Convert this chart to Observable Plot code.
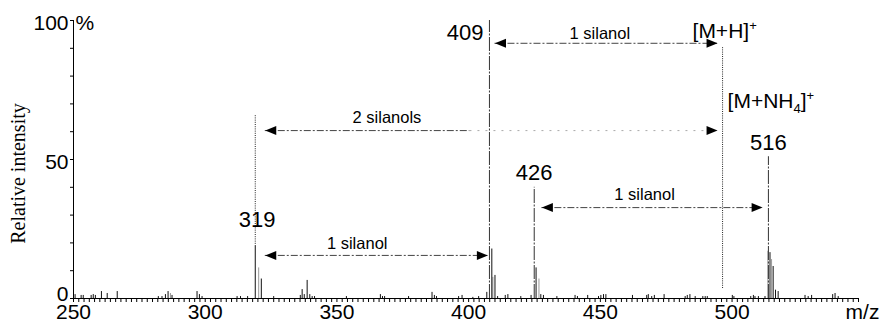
<!DOCTYPE html>
<html><head><meta charset="utf-8">
<script src="https://cdn.jsdelivr.net/npm/d3@7"></script>
<script src="https://cdn.jsdelivr.net/npm/@observablehq/plot@0.6"></script>
<style>
html,body{margin:0;padding:0;background:#fff;}
#chart svg{display:block;}
</style></head><body><div id="chart"></div>
<script>
// ---- tick labels ----
const xTickLabels = [250, 300, 350, 400, 450, 500];
const yTickLabels = [0, 50, 100];

// ---- spectrum: black sticks (m/z, relative intensity %) ----
const blackMz = [250.6,252.9,253.7,256.7,257.5,258.3,260.6,262.8,266.6,282.2,283.6,284.9,285.9,287.4,296.9,297.8,298.8,312.1,313.4,316.1,319.0,321.3,326.0,336.1,336.8,337.6,338.7,339.7,340.6,341.5,353.6,366.5,367.3,368.1,377.2,386.1,387.0,387.8,396.2,397.5,401.6,403.8,406.9,408.8,410.0,411.0,413.9,414.9,419.8,423.7,425.6,427.4,428.4,433.5,440.4,441.3,445.2,449.3,450.2,451.2,452.1,462.2,467.6,468.2,469.5,470.5,474.2,482.2,483.0,484.0,486.0,488.9,489.8,490.6,500.1,500.7,507.1,508.1,508.7,510.0,512.5,514.4,515.6,516.5,517.5,527.7,528.9,530.2,538.2,539.1,540.3];
const blackIntensity = [1.4,1.1,1.1,1.1,1.4,1.1,2.5,1.8,2.5,0.7,0.7,1.4,2.5,1.1,2.5,1.4,0.7,0.7,0.7,0.7,18.7,7.0,0.7,1.1,3.2,1.4,6.5,1.4,0.7,0.7,0.7,1.4,0.7,0.7,0.7,2.2,1.1,0.7,0.7,1.1,0.4,0.7,2.2,17.8,8.3,0.7,1.1,1.4,0.7,1.1,11.0,1.4,1.1,0.7,1.1,0.7,1.1,0.7,1.1,1.4,1.4,1.1,1.1,1.4,0.7,1.1,1.4,0.7,1.1,1.4,0.7,0.7,0.7,0.7,1.1,0.7,0.7,1.1,0.7,0.7,0.7,16.5,11.5,3.0,2.5,1.1,0.7,1.1,1.4,1.8,0.7];
// grey sticks
const greyMz = [286.8,320.3,409.2,426.7,513.6,515.0];
const greyIntensity = [1.8,11.0,7.6,7.0,17.0,14.0];
// labelled main peaks (thin lines)
const mainMz = [407.9,424.9,513.8];
const mainIntensity = [100,40,51];

// ---- peak labels ----
const peakLabels = ["319","409","426","516"];
const peakLabelMz = [319.7,405.6,424.9,513.8];
const peakLabelY = [28.4,95.5,45.1,56.1];

// ---- silanol arrows ----
const arrowLabels = ["1 silanol","2 silanols","1 silanol","1 silanol"];
const arrowFrom = [410.0,322.8,322.8,427.8];
const arrowTo = [494.5,494.5,407.3,511.6];
const arrowLevel = [91.8,60.4,15.5,32.7];
const arrowLabelMz = [449.8,369.0,357.7,466.8];
const arrowLabelY = [95.3,65.1,19.8,37.4];
const arrowFadeFrom = [null,400.5,null,null];

// ---- dotted guide lines ----
const guideMz = [319.0,496.4];
const guideLow = [18.7,3.6];
const guideHigh = [65.8,90.3];

// ---- ion labels ----
const ionLabels = ["[M+H]+","[M+NH4]+"];
const ionLabelMz = [485.0,498.3];
const ionLabelY = [96.0,70.9];

const sticks = (mz, it) => mz.map((m, i) => ({mz: m, i: it[i]}));
const black = sticks(blackMz, blackIntensity);
const grey = sticks(greyMz, greyIntensity);
const main = sticks(mainMz, mainIntensity);
const peakLab = peakLabels.map((t, i) => ({t, mz: peakLabelMz[i], y: peakLabelY[i]}));
const arrows = arrowLabels.map((t, i) => ({t, a: arrowFrom[i], b: arrowTo[i], y: arrowLevel[i], lx: arrowLabelMz[i], ly: arrowLabelY[i], fade: arrowFadeFrom[i]}));
const guides = guideMz.map((m, i) => ({mz: m, lo: guideLow[i], hi: guideHigh[i]}));
const ions = ionLabels.map((t, i) => ({t, mz: ionLabelMz[i], y: ionLabelY[i]}));

const triRight = {draw(ctx) { ctx.moveTo(0, 0); ctx.lineTo(-11, -4.5); ctx.lineTo(-11, 4.5); ctx.closePath(); }};
const triLeft = {draw(ctx) { ctx.moveTo(0, 0); ctx.lineTo(11, -4.5); ctx.lineTo(11, 4.5); ctx.closePath(); }};

const sans = "'Liberation Sans', Arial, Helvetica, sans-serif";
const serif = "'Liberation Serif', 'Times New Roman', serif";

const chart = Plot.plot({
  width: 885, height: 331,
  marginLeft: 73, marginRight: 27, marginTop: 20, marginBottom: 33,
  x: {domain: [250, 548]},
  y: {domain: [0, 100]},
  style: {fontFamily: sans, background: "#fff", color: "#000", overflow: "visible"},
  marks: [
    Plot.axisX({ticks: d3.range(250, 549, 2), tickSize: 4, tickPadding: 2, tickFormat: d => xTickLabels.includes(d) ? String(d) : "", fontSize: 21, label: null}),
    Plot.axisY({ticks: d3.range(0, 101, 10), tickSize: 3, tickFormat: () => "", label: null}),
    Plot.text(yTickLabels.filter(d => d > 0), {x: 250, y: d => d, text: d => String(d), textAnchor: "end", dx: -5, dy: 3, fontSize: 21}),
    Plot.text(yTickLabels.filter(d => d === 0), {x: 250, y: d => d, text: d => String(d), textAnchor: "end", dx: -5, dy: -4, fontSize: 21}),
    Plot.text(["%"], {frameAnchor: "top-left", dx: 2, dy: 3, textAnchor: "start", lineAnchor: "middle", fontSize: 21}),
    Plot.text(["m/z"], {frameAnchor: "bottom-right", dx: 4, dy: 14, textAnchor: "middle", lineAnchor: "middle", fontSize: 21}),
    Plot.text(["Relative intensity"], {frameAnchor: "left", dx: -55, dy: 14, rotate: -90, textAnchor: "middle", lineAnchor: "middle", fontFamily: serif, fontSize: 20}),
    // spectrum
    Plot.ruleX(grey, {x: "mz", y: "i", stroke: "#9a9a9a", strokeWidth: 1}),
    Plot.ruleX(black, {x: "mz", y: "i", stroke: "#111", strokeWidth: 1}),
    Plot.ruleX(main, {x: "mz", y: "i", stroke: "#333", strokeWidth: 1, strokeDasharray: "14,1.5,2,1.5"}),
    Plot.ruleX([250], {stroke: "#000"}),
    Plot.ruleY([0], {stroke: "#000"}),
    // guides
    Plot.ruleX(guides, {x: "mz", y1: "lo", y2: "hi", stroke: "#222", strokeDasharray: "1,1.2"}),
    // arrows
    Plot.ruleY(arrows, {y: "y", x1: "a", x2: d => d.fade ?? d.b, stroke: "#444", strokeDasharray: "7,2,2,2"}),
    Plot.ruleY(arrows.filter(d => d.fade != null), {y: "y", x1: "fade", x2: "b", stroke: "#aaa", strokeDasharray: "2,6"}),
    Plot.dot(arrows, {x: "a", y: "y", symbol: triLeft, r: 5, fill: "#000", stroke: "none"}),
    Plot.dot(arrows, {x: "b", y: "y", symbol: triRight, r: 5, fill: "#000", stroke: "none"}),
    Plot.text(arrows, {x: "lx", y: "ly", text: "t", fontSize: 16.5}),
    // labels
    Plot.text(peakLab.filter(d => d.t !== "409"), {x: "mz", y: "y", text: "t", fontSize: 22, textAnchor: "middle"}),
    Plot.text(peakLab.filter(d => d.t === "409"), {x: "mz", y: "y", text: "t", fontSize: 22, textAnchor: "end"}),
    Plot.text(ions, {x: "mz", y: "y", text: "t", fontSize: 21, textAnchor: "start"})
  ]
});
document.getElementById("chart").appendChild(chart);

// typeset sub/superscripts of the ion labels
d3.select(chart).selectAll("text").each(function() {
  const s = this.textContent;
  if (s === "[M+H]+" || s === "[M+NH4]+") {
    const el = d3.select(this);
    el.text(null);
    if (s === "[M+H]+") {
      el.append("tspan").text("[M+H]");
    } else {
      el.append("tspan").text("[M+NH");
      el.append("tspan").attr("font-size", "13").attr("dy", "5").text("4");
      el.append("tspan").attr("dy", "-5").text("]");
    }
    el.append("tspan").attr("font-size", "13").attr("dy", "-8").text("+");
  }
});
</script>
</body></html>
